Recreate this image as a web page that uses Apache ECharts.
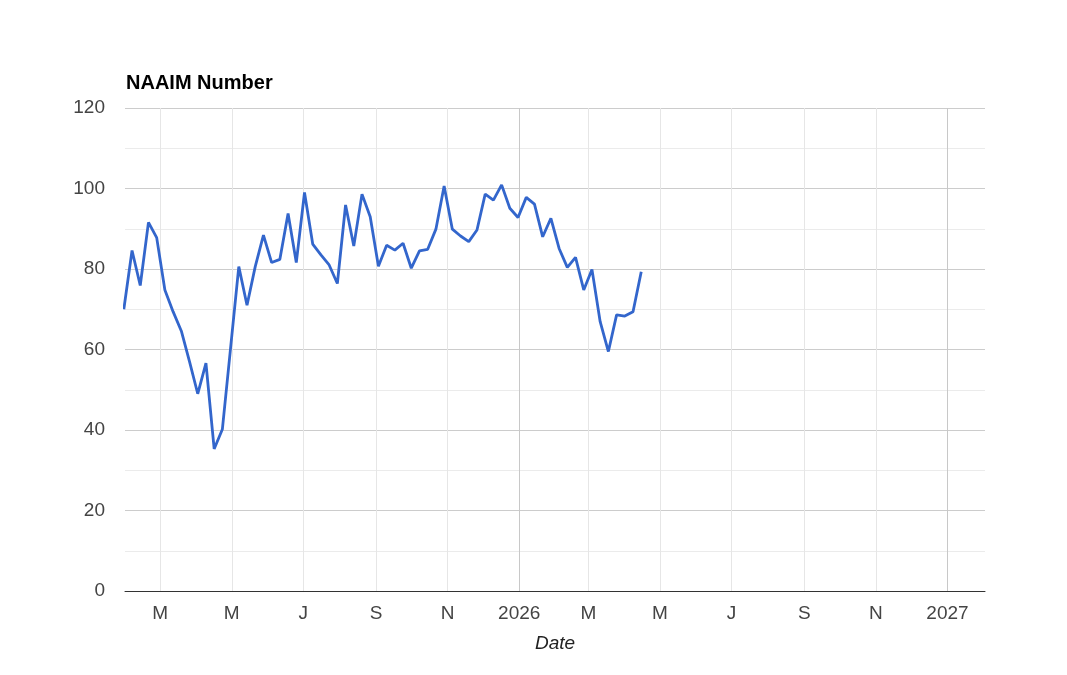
<!DOCTYPE html>
<html>
<head>
<meta charset="utf-8">
<script src="https://cdn.jsdelivr.net/npm/echarts@6/dist/echarts.min.js"></script>
<style>
html,body{margin:0;padding:0;background:#fff;}
#chart{width:1067px;height:675px;}
</style>
</head>
<body>
<div id="chart"></div>
<script>
// Weekly NAAIM readings (Wednesdays)
const dates = [
 '2025-01-29','2025-02-05','2025-02-12','2025-02-19','2025-02-26','2025-03-05','2025-03-12','2025-03-19','2025-03-26',
 '2025-04-02','2025-04-09','2025-04-16','2025-04-23','2025-04-30','2025-05-07','2025-05-14','2025-05-21','2025-05-28',
 '2025-06-04','2025-06-11','2025-06-18','2025-06-25','2025-07-02','2025-07-09','2025-07-16','2025-07-23','2025-07-30',
 '2025-08-06','2025-08-13','2025-08-20','2025-08-27','2025-09-03','2025-09-10','2025-09-17','2025-09-24','2025-10-01',
 '2025-10-08','2025-10-15','2025-10-22','2025-10-29','2025-11-05','2025-11-12','2025-11-19','2025-11-26','2025-12-03',
 '2025-12-10','2025-12-17','2025-12-24','2025-12-31','2026-01-07','2026-01-14','2026-01-21','2026-01-28','2026-02-04',
 '2026-02-11','2026-02-18','2026-02-25','2026-03-04','2026-03-11','2026-03-18','2026-03-25','2026-04-01','2026-04-08',
 '2026-04-15'
];
const values = [
 70, 84.6, 75.9, 91.6, 87.8, 74.8, 69.4, 64.6, 57.0,
 49.0, 56.6, 35.3, 40.2, 60.4, 80.6, 71.0, 80.6, 88.4,
 81.6, 82.4, 93.8, 81.6, 99.0, 86.2, 83.5, 81.0, 76.4,
 95.9, 85.7, 98.6, 93.0, 80.7, 85.9, 84.7, 86.4, 80.2,
 84.5, 84.9, 89.9, 100.6, 89.9, 88.2, 86.8, 89.7, 98.6,
 97.1, 100.9, 95.1, 92.8, 97.8, 96.1, 88.0, 92.6, 85.1,
 80.4, 82.9, 74.8, 79.9, 66.9, 59.5, 68.6, 68.3, 69.4,
 79.3
];
const tickDates = ['2025-03-01','2025-05-01','2025-07-01','2025-09-01','2025-11-01','2026-01-01',
                   '2026-03-01','2026-05-01','2026-07-01','2026-09-01','2026-11-01','2027-01-01'];
const monthLetters = ['J','F','M','A','M','J','J','A','S','O','N','D'];
const xRange = ['2025-01-30','2027-02-02'];
const yTicks = [0, 20, 40, 60, 80, 100, 120];

function toTs(s){ const p = s.split('-').map(Number); return Date.UTC(p[0], p[1]-1, p[2]); }

const seriesData = dates.map((d,i)=>[toTs(d), values[i]]);
const tickTs = tickDates.map(toTs);
const FONT = '"Liberation Sans", Arial, sans-serif';

const chart = echarts.init(document.getElementById('chart'), null, {renderer:'canvas'});
chart.setOption({
  backgroundColor:'#ffffff',
  animation:false,
  title:{
    text:'NAAIM Number', left:126, top:73, padding:0,
    textStyle:{fontFamily:FONT, fontSize:20, fontWeight:'bold', color:'#000'}
  },
  grid:{left:125, right:82, top:108, bottom:84, containLabel:false},
  xAxis:{
    type:'value',
    min:toTs(xRange[0]), max:toTs(xRange[1]),
    name:'Date', nameLocation:'middle', nameGap:43,
    nameTextStyle:{fontFamily:FONT, fontSize:19, fontStyle:'italic', color:'#222'},
    axisLine:{show:true, onZero:false, lineStyle:{color:'#333', width:1}},
    axisTick:{show:false, customValues:tickTs},
    axisLabel:{
      customValues:tickTs,
      showMinLabel:true, showMaxLabel:true, hideOverlap:false,
      fontFamily:FONT, fontSize:19, color:'#444', margin:13,
      formatter:function(v){ const d=new Date(v); return d.getUTCMonth()===0 ? String(d.getUTCFullYear()) : monthLetters[d.getUTCMonth()]; }
    },
    splitLine:{show:true, lineStyle:{color:['#e6e6e6','#e6e6e6','#e6e6e6','#e6e6e6','#e6e6e6','#c8c8c8'], width:1}}
  },
  yAxis:{
    type:'value', min:yTicks[0], max:yTicks[yTicks.length-1], interval:20,
    axisLine:{show:false}, axisTick:{show:false},
    axisLabel:{fontFamily:FONT, fontSize:19, color:'#444', margin:20, padding:[3,0,0,0]},
    splitLine:{show:true, lineStyle:{color:'#cccccc', width:1}},
    minorTick:{show:false, splitNumber:2},
    minorSplitLine:{show:true, lineStyle:{color:'#ebebeb', width:1}}
  },
  series:[{
    type:'line', data:seriesData, showSymbol:false, symbol:'none',
    clip:true,
    lineStyle:{color:'#3366cc', width:2.8},
    itemStyle:{color:'#3366cc'}
  }]
});
</script>
</body>
</html>
